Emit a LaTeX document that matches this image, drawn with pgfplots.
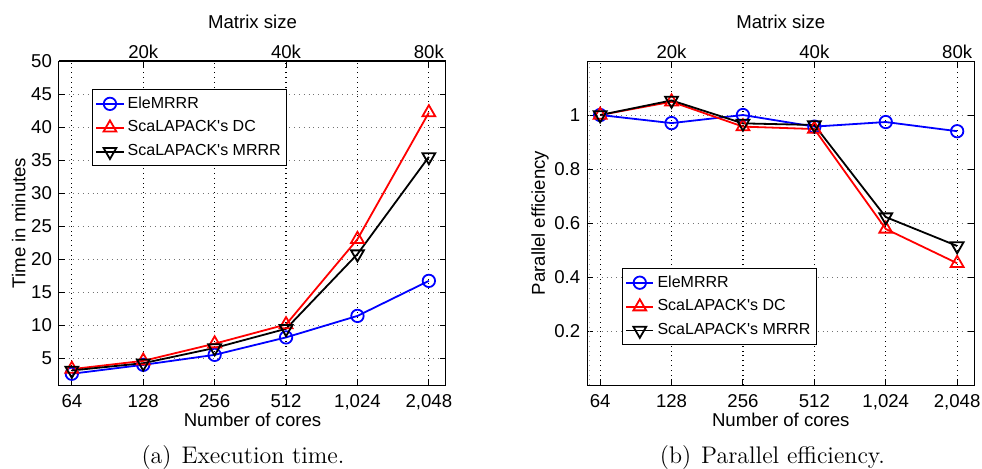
\documentclass[border=0pt]{standalone}
\usepackage{fontspec}
\usepackage{pgfplots}
\pgfplotsset{compat=1.18}
\newfontfamily\axisfont{Liberation Sans}

% Shared look of both panels (MATLAB-like)
\pgfplotsset{
  panel/.style={
    scale only axis, width=193.5pt, height=162pt,
    xmin=-0.18, xmax=5.24,
    axis line style={line width=0.5pt},
    tick align=inside, major tick length=3pt,
    tick style={black, line width=0.5pt},
    font=\axisfont\fontsize{9.3}{11}\selectfont,
    /pgf/number format/assume math mode=true,
    xtick={0,1,2,3,4,5},
    xticklabels={64,128,256,512,{1,024},{2,048}},
    xtick pos=bottom,
    xmajorgrids, ymajorgrids,
    x grid style={dotted, black, line width=0.6pt},
    y grid style={dotted, black!55, line width=0.5pt},
    xlabel={Number of cores},
    xticklabel style={yshift=-1pt},
    xlabel style={yshift=5pt},
    ylabel shift=-4pt,
    legend cell align=left,
    legend style={draw=black, line width=0.5pt, fill=white,
      font=\axisfont\fontsize{8}{9.5}\selectfont,
      inner xsep=1.5pt, inner ysep=2pt, row sep=1.6pt,
      nodes={inner sep=1.6pt}},
    legend image code/.code={
      \draw[mark repeat=2,mark phase=2,#1]
        plot coordinates {(0cm,0cm) (0.24cm,0cm) (0.48cm,0cm)};},
  },
  topaxis/.style={
    scale only axis, width=193.5pt, height=162pt,
    xmin=-0.18, xmax=5.24,
    axis x line*=top, axis y line=none,
    axis line style={line width=0.5pt},
    tick align=inside, major tick length=3pt,
    tick style={black, line width=0.5pt},
    font=\axisfont\fontsize{9.3}{11}\selectfont,
    xtick={1,3,5}, xticklabels={20k,40k,80k},
    xticklabel style={yshift=-2.5pt},
    xlabel={Matrix size},
    xlabel style={yshift=1.5pt},
  },
  ele/.style={blue, line width=0.9pt, mark=o, mark size=3.1pt,
    mark options={solid, line width=0.9pt}},
  dc/.style={red, line width=0.9pt, mark=triangle, mark size=3.7pt,
    mark options={solid, line width=0.9pt}},
  mrrr/.style={black, line width=0.9pt, mark=triangle, mark size=3.7pt,
    mark options={solid, rotate=180, line width=0.9pt}},
}

\pgfplotstableread{
x  ele   dc    mrrr
0  2.70  3.40  3.20
1  4.05  4.65  4.30
2  5.56  7.25  6.60
3  8.20  10.15 9.50
4  11.45 23.05 20.80
5  16.75 42.20 35.50
}\timetab

\pgfplotstableread{
x  ele   dc    mrrr
0  1.000 1.000 1.000
1  0.970 1.049 1.054
2  1.000 0.957 0.969
3  0.957 0.948 0.963
4  0.974 0.578 0.622
5  0.940 0.451 0.515
}\efftab

\begin{document}
\begin{tikzpicture}
\path[use as bounding box] (0,0) rectangle (491pt,234pt);

% (a) execution time
\begin{axis}[panel, at={(29.5pt,41.5pt)}, anchor=south west,
  ymin=1, ymax=50, ytick={5,10,...,50},
  ylabel={Time in minutes},
  legend style={at={(rel axis cs:0.085,0.914)}, anchor=north west}]
  \addplot[ele]  table[x=x, y=ele]  {\timetab};
  \addplot[dc]   table[x=x, y=dc]   {\timetab};
  \addplot[mrrr] table[x=x, y=mrrr] {\timetab};
  \legend{EleMRRR, ScaLAPACK's DC, ScaLAPACK's MRRR}
\end{axis}
\begin{axis}[topaxis, at={(29.5pt,41.5pt)}, anchor=south west,
  ymin=0, ymax=1]
\end{axis}

% (b) parallel efficiency
\begin{axis}[panel, at={(293.65pt,41.5pt)}, anchor=south west,
  ymin=0, ymax=1.2, ytick={0.2,0.4,0.6,0.8,1},
  ylabel={Parallel efficiency},
  legend style={at={(rel axis cs:0.089,0.362)}, anchor=north west}]
  \addplot[ele]  table[x=x, y=ele]  {\efftab};
  \addplot[dc]   table[x=x, y=dc]   {\efftab};
  \addplot[mrrr] table[x=x, y=mrrr] {\efftab};
  \legend{EleMRRR, ScaLAPACK's DC, ScaLAPACK's MRRR}
\end{axis}
\begin{axis}[topaxis, at={(293.65pt,41.5pt)}, anchor=south west,
  ymin=0, ymax=1,
  extra x ticks={-0.15}, extra x tick labels={},
  extra x tick style={major tick length=0pt, grid=major,
    grid style={dotted, black!35, line width=0.5pt}}]
\end{axis}

% sub-captions
\node[anchor=base, font=\fontsize{12}{14}\selectfont] at (121.5pt,2.5pt)
  {(a)\hspace{5pt}Execution time.};
\node[anchor=base, font=\fontsize{12}{14}\selectfont] at (386.2pt,2.5pt)
  {(b)\hspace{5pt}Parallel efficiency.};
\end{tikzpicture}
\end{document}
